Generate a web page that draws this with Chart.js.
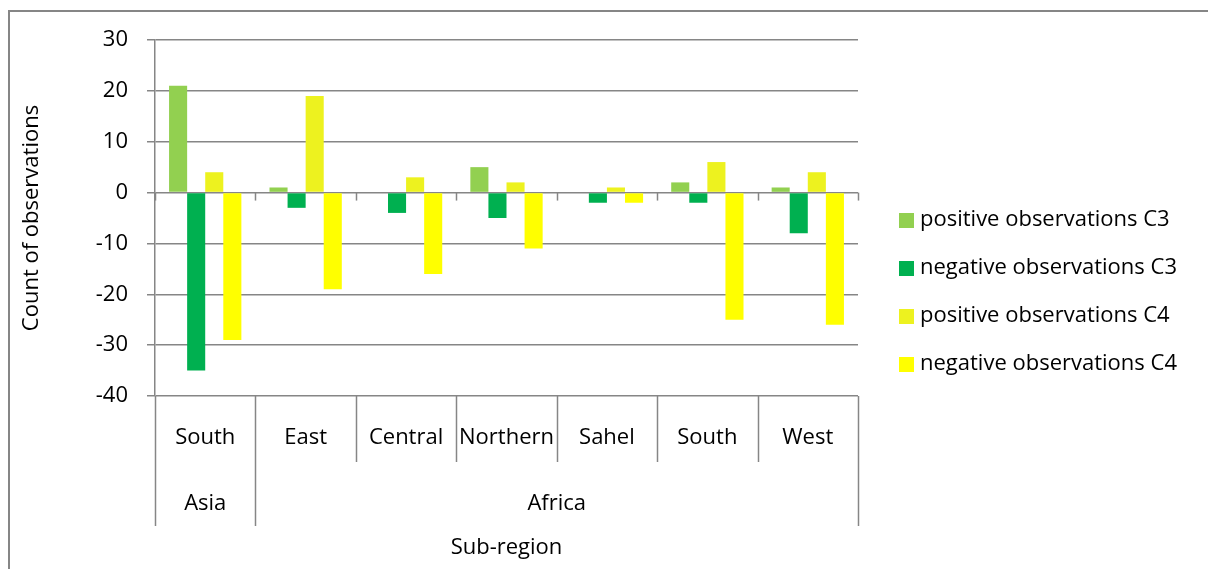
<!DOCTYPE html>
<html lang="en">
<head>
    <meta charset="UTF-8">
    <title>Observations by sub-region</title>
    <style>
        body {
            margin: 0;
            background: #fff;
        }
        .wrap {
            width: 1208px;
            height: 569px;
            position: relative;
        }
    </style>
</head>
<body>
    <div class="wrap">
        <canvas id="chart" width="1208" height="569"></canvas>
    </div>

    <script src="https://cdn.jsdelivr.net/npm/chart.js"></script>
    <script>
        // data
        const regions = ['South', 'East', 'Central', 'Northern', 'Sahel', 'South', 'West'];
        const groups = [
            { label: 'Asia', from: 0, to: 1 },
            { label: 'Africa', from: 1, to: 7 }
        ];
        const posC3 = [21, 1, 0, 5, 0, 2, 1];
        const negC3 = [-35, -3, -4, -5, -2, -2, -8];
        const posC4 = [4, 19, 3, 2, 1, 6, 4];
        const negC4 = [-29, -19, -16, -11, -2, -25, -26];
        const yTicks = [30, 20, 10, 0, -10, -20, -30, -40];

        const FONT = '"Open Sans", Lato, sans-serif';
        const FSIZE = 22;
        const GRID = '#868686';

        const seriesNames = ['positive observations C3', 'negative observations C3',
                             'positive observations C4', 'negative observations C4'];
        const seriesColors = ['#92D050', '#00B050', '#EDF21F', '#FFFF00'];
        const seriesData = [posC3, negC3, posC4, negC4];

        // Excel-like axis, labels, legend and frame
        const extras = {
            id: 'extras',
            afterDraw(chart) {
                const ctx = chart.ctx;
                const area = chart.chartArea;
                const x = chart.scales.x;
                const y = chart.scales.y;
                const n = regions.length;
                const w = (area.right - area.left) / n;
                const y0 = y.getPixelForValue(0);

                ctx.save();
                ctx.strokeStyle = GRID;
                ctx.lineWidth = 1.5;

                // ticks under the zero line and category separators
                for (let i = 0; i <= n; i++) {
                    const bx = Math.round(area.left + i * w) + 0.5;
                    ctx.beginPath();
                    ctx.moveTo(bx, y0);
                    ctx.lineTo(bx, y0 + 8);
                    ctx.stroke();

                    const isGroupEdge = groups.some(g => g.from === i || g.to === i);
                    ctx.beginPath();
                    ctx.moveTo(bx, area.bottom);
                    ctx.lineTo(bx, isGroupEdge ? area.bottom + 130 : area.bottom + 66);
                    ctx.stroke();
                }

                ctx.fillStyle = '#000';
                ctx.font = FSIZE + 'px ' + FONT;
                ctx.textAlign = 'center';
                ctx.textBaseline = 'middle';
                regions.forEach((r, i) => {
                    ctx.fillText(r, x.getPixelForValue(i), area.bottom + 42);
                });
                groups.forEach(g => {
                    const cx = area.left + (g.from + g.to) / 2 * w;
                    ctx.fillText(g.label, cx, area.bottom + 108);
                });
                ctx.fillText('Sub-region', (area.left + area.right) / 2, area.bottom + 152);

                // legend
                ctx.textAlign = 'left';
                seriesNames.forEach((name, i) => {
                    const ly = 220 + i * 48;
                    ctx.fillStyle = seriesColors[i];
                    ctx.fillRect(899, ly - 7, 15, 15);
                    ctx.fillStyle = '#000';
                    ctx.fillText(name, 920, ly);
                });

                // outer frame
                ctx.strokeStyle = GRID;
                ctx.lineWidth = 2;
                ctx.beginPath();
                ctx.moveTo(9, 600);
                ctx.lineTo(9, 11);
                ctx.lineTo(1220, 11);
                ctx.stroke();
                ctx.restore();
            }
        };

        new Chart(document.getElementById('chart'), {
            type: 'bar',
            data: {
                labels: regions,
                datasets: seriesNames.map((name, i) => ({
                    label: name,
                    data: seriesData[i],
                    backgroundColor: seriesColors[i],
                    borderWidth: 0,
                    categoryPercentage: 0.72,
                    barPercentage: 1
                }))
            },
            options: {
                responsive: false,
                animation: false,
                layout: {
                    padding: { top: 40, right: 350, left: 0, bottom: 0 }
                },
                plugins: {
                    legend: { display: false },
                    tooltip: { enabled: false }
                },
                scales: {
                    x: {
                        grid: { display: false },
                        border: { display: false },
                        ticks: { display: false },
                        afterFit(scale) { scale.height = 173; }
                    },
                    y: {
                        min: -40,
                        max: 30,
                        afterBuildTicks(scale) {
                            scale.ticks = yTicks.map(v => ({ value: v }));
                        },
                        ticks: {
                            color: '#000',
                            font: { family: FONT, size: FSIZE },
                            padding: 19
                        },
                        grid: {
                            color: GRID,
                            lineWidth: 1.5,
                            tickLength: 8
                        },
                        border: { color: GRID, width: 1.5 },
                        title: {
                            display: true,
                            text: 'Count of observations',
                            color: '#000',
                            font: { family: FONT, size: FSIZE },
                            padding: { top: 19, bottom: 0 }
                        },
                        afterFit(scale) { scale.width = 155; }
                    }
                }
            },
            plugins: [extras]
        });
    </script>
</body>
</html>
